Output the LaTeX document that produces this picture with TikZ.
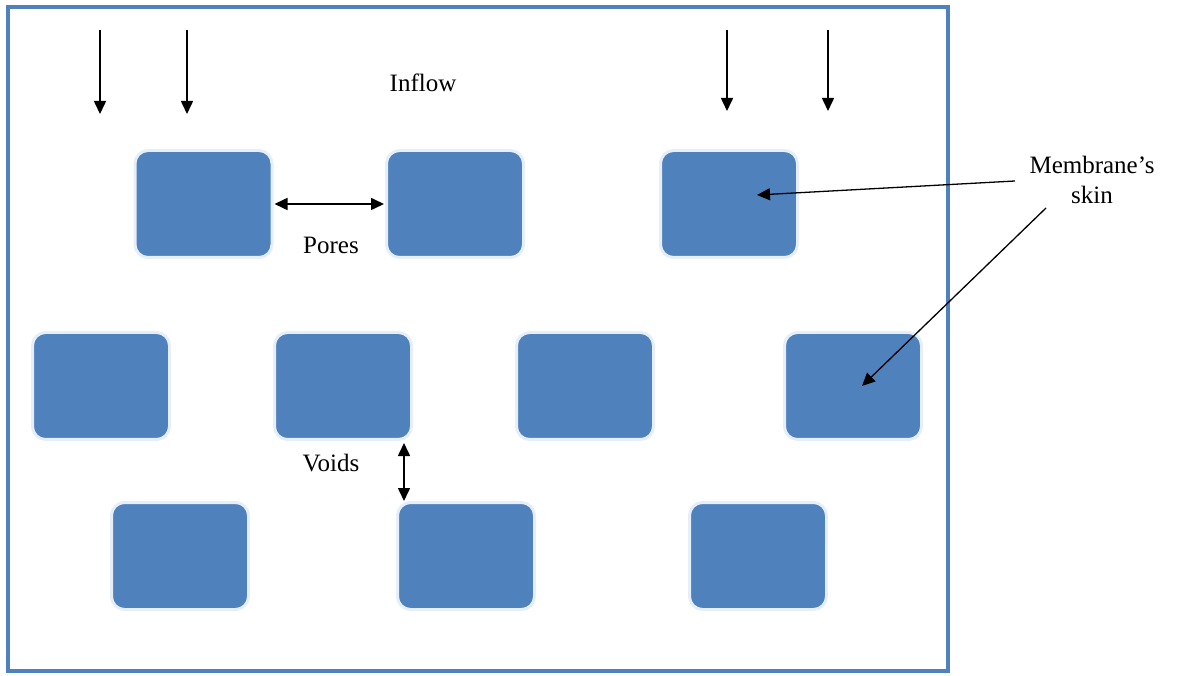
\documentclass[tikz,border=0pt]{standalone}
\usepackage{fontspec}
\setmainfont{Liberation Serif}
\usetikzlibrary{arrows.meta}
\definecolor{blk}{HTML}{4F81BD}
\definecolor{glowc}{HTML}{E6EEF8}
\tikzset{
  block/.style={rectangle, rounded corners=13pt, fill=blk, draw=glowc,
    line width=3pt, minimum width=137pt, minimum height=107pt, inner sep=0pt},
  lbl/.style={font=\fontsize{25}{30}\selectfont, inner sep=0pt, align=center},
  arr/.style={line width=1.6pt, -{Triangle[length=13pt,width=12pt]}},
  darr/.style={line width=1.6pt, {Triangle[length=13pt,width=12pt]}-{Triangle[length=13pt,width=12pt]}}
}
\begin{document}
\begin{tikzpicture}[x=1pt,y=-1pt]
\useasboundingbox (0,0) rectangle (1195,676);
% outer frame
\draw[blk, line width=4pt] (8,7) rectangle (948,671);

% blocks, row by row
\node[block] (a1) at (203.5,204) {};
\node[block] (a2) at (455,204) {};
\node[block] (a3) at (729,204) {};
\node[block] (b1) at (101,386) {};
\node[block] (b2) at (343,386) {};
\node[block] (b3) at (585,386) {};
\node[block] (b4) at (853,386) {};
\node[block] (c1) at (180,556) {};
\node[block] (c2) at (466,556) {};
\node[block] (c3) at (758,556) {};

% inflow arrows
\coordinate (i1s) at (100,30);  \coordinate (i1e) at (100,114);
\coordinate (i2s) at (187,30);  \coordinate (i2e) at (187,114);
\coordinate (i3s) at (727,30);  \coordinate (i3e) at (727,111);
\coordinate (i4s) at (828,30);  \coordinate (i4e) at (828,111);
\draw[arr] (i1s) -- (i1e);
\draw[arr] (i2s) -- (i2e);
\draw[arr] (i3s) -- (i3e);
\draw[arr] (i4s) -- (i4e);
\node[lbl] (inflow) at (423,83) {Inflow};

% pores
\draw[darr] ([xshift=1pt]a1.east) -- ([xshift=-1pt]a2.west);
\node[lbl] (pores) at (331,245) {Pores};

% voids
\coordinate (v1) at (404,443);
\coordinate (v2) at (404,501);
\draw[darr] (v1) -- (v2);
\node[lbl] (voids) at (331,463) {Voids};

% membrane skin label and pointers
\node[lbl] (mem) at (1092,180) {Membrane's\\skin};
\coordinate (m1s) at (1015,181);
\coordinate (m1e) at (757,195);
\coordinate (m2s) at (1046,208);
\coordinate (m2e) at (862,386);
\draw[arr, line width=1.3pt] (m1s) -- (m1e);
\draw[arr, line width=1.3pt] (m2s) -- (m2e);
\end{tikzpicture}
\end{document}
